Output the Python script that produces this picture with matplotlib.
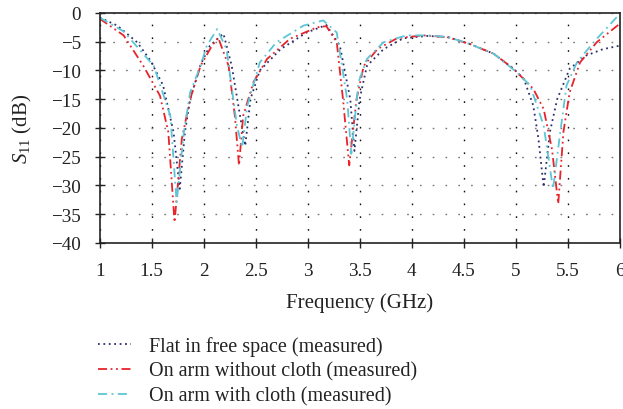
import matplotlib
matplotlib.use("Agg")
import matplotlib.pyplot as plt

plt.rcParams["font.family"] = ["Liberation Serif", "DejaVu Serif"]
plt.rcParams["mathtext.fontset"] = "custom"
plt.rcParams["mathtext.rm"] = "Liberation Serif"
plt.rcParams["mathtext.it"] = "Liberation Serif:italic"

# Measured S11 curves (frequency in GHz, S11 in dB)
freq_flat = [1.0, 1.17, 1.36, 1.49, 1.61, 1.71, 1.77, 1.82, 1.87, 1.97, 2.06, 2.19,
             2.27, 2.35, 2.40, 2.45, 2.54, 2.74, 2.99, 3.18, 3.31, 3.41, 3.45, 3.50,
             3.57, 3.73, 3.92, 4.15, 4.35, 4.56, 4.79, 4.98, 5.08, 5.17, 5.22, 5.27,
             5.33, 5.40, 5.52, 5.68, 5.84, 6.0]
s11_flat = [-0.8, -2.2, -5.1, -8.3, -12.6, -20.7, -30.6, -20.7, -15.0, -9.0, -5.7, -3.6,
            -9.2, -17.9, -23.1, -15.0, -10.0, -6.3, -3.4, -2.1, -5.7, -15.0, -24.0, -15.0,
            -9.2, -6.3, -4.4, -4.0, -4.2, -5.4, -7.1, -9.7, -11.5, -16.1, -21.9, -30.3,
            -20.7, -15.0, -9.7, -7.4, -6.3, -5.7]

freq_arm = [1.0, 1.23, 1.42, 1.58, 1.66, 1.72, 1.79, 1.87, 1.97, 2.08, 2.14, 2.24,
            2.30, 2.34, 2.38, 2.48, 2.61, 2.83, 3.09, 3.18, 3.28, 3.34, 3.40, 3.47,
            3.54, 3.67, 3.86, 4.11, 4.34, 4.56, 4.79, 4.98, 5.17, 5.27, 5.35, 5.41,
            5.46, 5.52, 5.62, 5.78, 6.0]
s11_arm = [-1.0, -3.9, -9.2, -14.4, -20.7, -36.4, -21.9, -15.0, -9.2, -5.7, -4.3, -9.2,
           -17.9, -26.5, -17.9, -12.0, -8.0, -4.5, -2.5, -2.3, -5.1, -15.0, -26.5, -15.0,
           -9.2, -6.3, -4.4, -3.9, -4.2, -5.4, -7.1, -9.7, -13.2, -16.7, -23.7, -33.2,
           -20.7, -13.8, -8.6, -5.1, -1.9]

freq_cloth = [1.0, 1.23, 1.52, 1.68, 1.74, 1.81, 1.87, 1.97, 2.03, 2.13, 2.22, 2.32,
              2.37, 2.42, 2.54, 2.70, 2.96, 3.15, 3.28, 3.38, 3.42, 3.49, 3.57, 3.73,
              3.95, 4.16, 4.35, 4.56, 4.79, 5.01, 5.14, 5.27, 5.36, 5.43, 5.49, 5.59,
              5.75, 6.0]
s11_cloth = [-0.8, -3.2, -9.2, -17.9, -32.9, -20.7, -13.8, -9.2, -5.7, -2.8, -6.3, -19.6,
             -23.4, -16.1, -8.6, -5.1, -2.2, -1.3, -3.4, -15.0, -24.5, -12.0, -8.0, -5.1,
             -3.9, -3.9, -4.2, -5.4, -7.1, -10.3, -12.6, -19.6, -30.6, -20.7, -12.6, -8.6,
             -5.1, -0.2]

labels = ["Flat in free space (measured)",
          "On arm without cloth (measured)",
          "On arm with cloth (measured)"]
xticks = [1, 1.5, 2, 2.5, 3, 3.5, 4, 4.5, 5, 5.5, 6]
xticklabels = ["1", "1.5", "2", "2.5", "3", "3.5", "4", "4.5", "5", "5.5", "6"]
yticks = [0, -5, -10, -15, -20, -25, -30, -35, -40]

fig = plt.figure(figsize=(6.23, 4.10), dpi=100)
ax = fig.add_axes([0.16, 0.405, 0.8345, 0.561])

ax.plot(freq_flat, s11_flat, color="#2a2e6b", lw=1.3, linestyle=(0, (1, 2)),
        label=labels[0])
ax.plot(freq_arm, s11_arm, color="#e8232a", lw=1.3,
        linestyle=(0, (5, 2, 1, 2, 1, 2)), label=labels[1])
ax.plot(freq_cloth, s11_cloth, color="#5cc6d6", lw=1.3,
        linestyle=(0, (5, 2.5, 1, 2.5)), label=labels[2])

ax.set_xlim(1, 6)
ax.set_ylim(-40, 0)
ax.set_xticks(xticks)
ax.set_xticklabels(xticklabels)
ax.set_yticks(yticks)
ax.set_yticklabels([str(v).replace("-", "\u2212") for v in yticks])

# Sparse dotted grid
ax.xaxis.grid(True, color="#111111", linestyle=(0, (1.2, 8)), lw=1.0)
ax.yaxis.grid(True, color="#777777", linestyle=(0, (1.2, 8)), lw=1.0)

for side in ["left", "bottom", "top", "right"]:
    ax.spines[side].set_color("#222222")
    ax.spines[side].set_linewidth(1.2)
ax.tick_params(axis="both", direction="inout", length=7, width=1.0,
               colors="#222222", labelsize=13.8, top=False, right=False)
ax.tick_params(axis="x", pad=10)
ax.tick_params(axis="y", pad=10)

ax.set_xlabel("Frequency (GHz)", fontsize=15, color="#222222", labelpad=10)
ax.set_ylabel("$S_{11}$ (dB)", fontsize=15, color="#222222", labelpad=12)

fig.legend(loc="upper left", bbox_to_anchor=(0.158, 0.178), frameon=False,
           fontsize=14.5, handlelength=1.6, handletextpad=0.9,
           labelspacing=0.28, borderaxespad=0, borderpad=0)
for t in fig.legends[0].get_texts():
    t.set_color("#222222")

fig.savefig("out.png", dpi=100)
